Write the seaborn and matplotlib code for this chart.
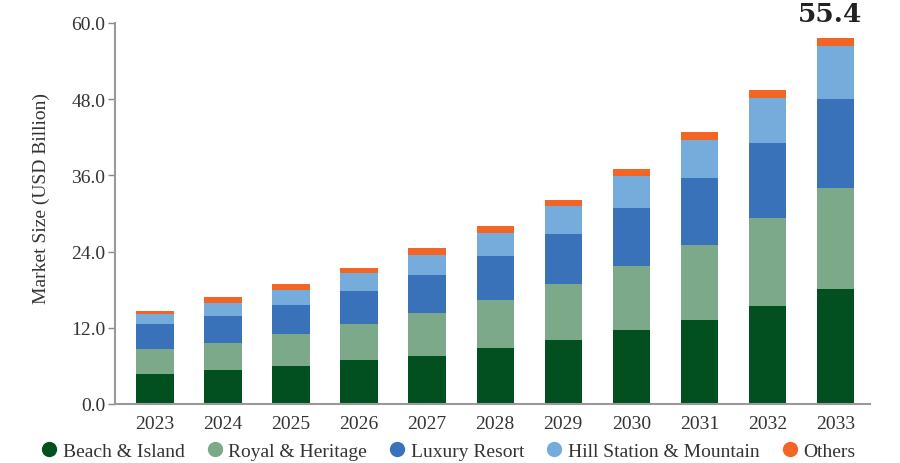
import matplotlib
matplotlib.use("Agg")
import matplotlib.pyplot as plt
from matplotlib.lines import Line2D
import numpy as np
import pandas as pd
import seaborn as sns

years = ["2023", "2024", "2025", "2026", "2027", "2028", "2029", "2030", "2031", "2032", "2033"]
beach_island = [4.7, 5.35, 5.94, 6.88, 7.61, 8.77, 10.13, 11.70, 13.28, 15.39, 18.10]
royal_heritage = [3.95, 4.25, 5.08, 5.67, 6.72, 7.66, 8.77, 10.03, 11.81, 13.85, 15.90]
luxury_resort = [3.95, 4.26, 4.62, 5.25, 6.03, 6.83, 7.87, 9.14, 10.45, 11.82, 14.00]
hill_station = [1.65, 2.04, 2.36, 2.78, 3.10, 3.72, 4.36, 5.03, 6.03, 7.13, 8.40]
others = [0.45, 0.95, 0.90, 0.79, 1.04, 1.00, 1.04, 1.10, 1.22, 1.26, 1.20]
segments = ["Beach & Island", "Royal & Heritage", "Luxury Resort", "Hill Station & Mountain", "Others"]
colors = ["#02501F", "#7BA98A", "#3A72B9", "#75ACDC", "#F26524"]
yticks = [0, 12, 24, 36, 48, 60]
annotation = "55.4"

sns.set_theme(style="white")
plt.rcParams["font.family"] = ["Liberation Serif", "DejaVu Serif"]

fig = plt.figure(figsize=(9, 4.64), dpi=100)
ax = fig.add_axes([115 / 900, 1 - 405 / 464, (870 - 115) / 900, (405 - 24) / 464])

series = [beach_island, royal_heritage, luxury_resort, hill_station, others]
cum = np.cumsum(np.array(series), axis=0)
df = pd.DataFrame({"year": years})
for i, name in enumerate(segments):
    df[name] = cum[i]

for i in reversed(range(len(segments))):
    sns.barplot(data=df, x="year", y=segments[i], color=colors[i], width=0.55,
                saturation=1, ax=ax, linewidth=0, zorder=2)

ax.set_xlim(-0.59, 10.51)
ax.set_ylim(0, 60)
ax.set_yticks(yticks)
ax.set_yticklabels([f"{v:.1f}" for v in yticks])
ax.set_xlabel("")
ax.set_ylabel("Market Size (USD Billion)", fontsize=14, color="#333333")
ax.yaxis.set_label_coords(-0.086, 0.543)
ax.tick_params(axis="y", left=True, length=5, width=1, color="#888888",
               labelsize=14, labelcolor="#333333", pad=2)
ax.tick_params(axis="x", bottom=False, labelsize=14, labelcolor="#333333", pad=2)
for s in ["top", "right"]:
    ax.spines[s].set_visible(False)
for s in ["left", "bottom"]:
    ax.spines[s].set_color("#999999")
    ax.spines[s].set_linewidth(1.5)

ax.text(9.93, 61.5, annotation, ha="center", va="center", fontsize=19,
        fontweight="bold", color="#222222", clip_on=False,
        family=["DejaVu Serif"])

handles = [Line2D([0], [0], marker="o", linestyle="", markersize=10,
                  markerfacecolor=c, markeredgecolor=c) for c in colors]
fig.legend(handles, segments, loc="center", bbox_to_anchor=(0.497, 1 - 452 / 464),
           ncol=5, frameon=False, fontsize=14, handletextpad=0.2,
           columnspacing=1.05, handlelength=1.0, labelcolor="#333333")

fig.savefig("out.png", dpi=100)
